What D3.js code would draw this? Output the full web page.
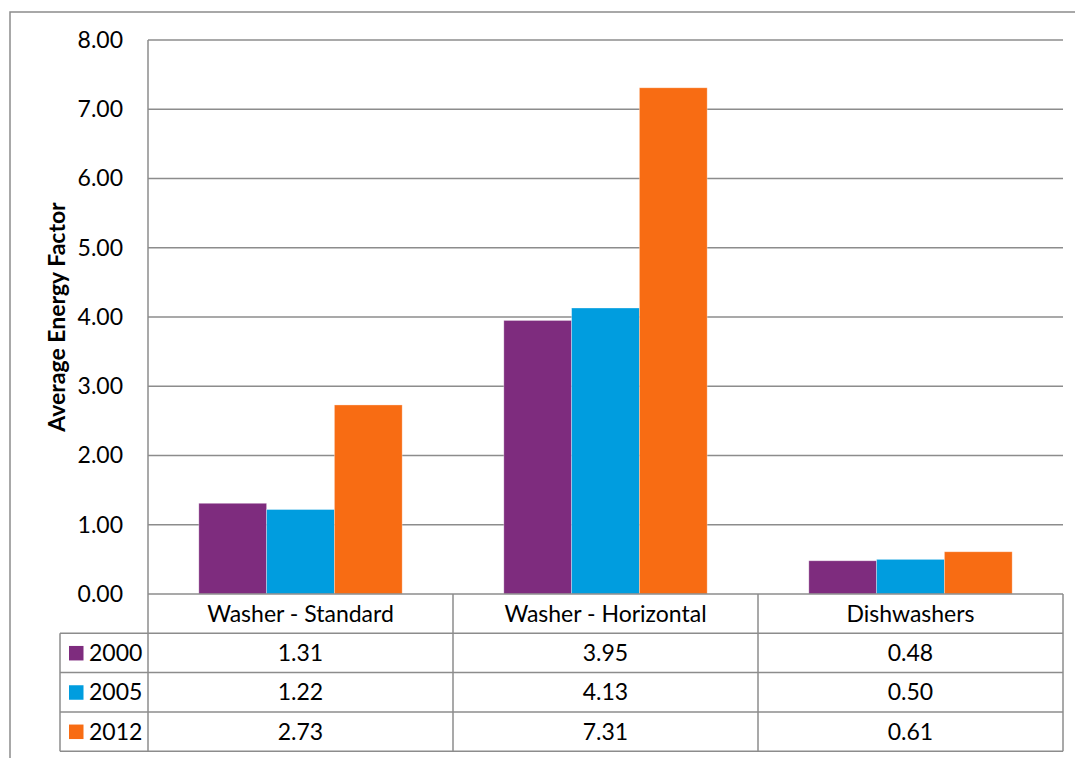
<!DOCTYPE html>
<html>
<head>
<meta charset="utf-8">
<script src="https://cdn.jsdelivr.net/npm/d3@7"></script>
<style>
  html, body { margin: 0; padding: 0; background: #fff; }
  svg { display: block; font-family: Lato, "Open Sans", "Liberation Sans", sans-serif; }
</style>
</head>
<body>
<svg id="chart" width="1075" height="758"></svg>
<script>
// Appliance categories and average energy factor per year
const categories = ["Washer - Standard", "Washer - Horizontal", "Dishwashers"];
const years = ["2000", "2005", "2012"];
const values2000 = [1.31, 3.95, 0.48];
const values2005 = [1.22, 4.13, 0.50];
const values2012 = [2.73, 7.31, 0.61];
const yTicks = [0, 1, 2, 3, 4, 5, 6, 7, 8];
const colors = ["#7e2c7e", "#009ddf", "#f86c13"];

const series = [values2000, values2005, values2012];

const svg = d3.select("#chart");
const gridColor = "#8c8c8c";
const fontSize = 23;

// Plot area
const plotLeft = 148, plotRight = 1063, plotTop = 40, plotBottom = 594;
const rowH = 39.3;

const x0 = d3.scaleBand().domain(categories).range([plotLeft, plotRight]).paddingInner(0).paddingOuter(0);
const x1 = d3.scaleBand().domain(years).range([0, x0.bandwidth()]).paddingInner(0).paddingOuter(0.75);
const y = d3.scaleLinear().domain([0, 8]).range([plotBottom, plotTop]);

// Outer chart frame (runs off the right and bottom edges)
svg.append("rect")
  .attr("x", 10).attr("y", 12)
  .attr("width", 1080).attr("height", 760)
  .attr("fill", "none").attr("stroke", gridColor).attr("stroke-width", 1.5);

// Y ticks
const yAxis = d3.axisLeft(y).tickValues(yTicks).tickFormat(d3.format(".2f")).tickSize(0).tickPadding(25);
const yg = svg.append("g").attr("transform", `translate(${plotLeft},0)`).call(yAxis);
yg.select(".domain").remove();
yg.selectAll("text").attr("font-size", fontSize).attr("fill", "#000").attr("font-family", "Lato, 'Open Sans', sans-serif");

// Horizontal gridlines
svg.append("g").selectAll("line")
  .data(yTicks.filter(d => d > 0))
  .join("line")
  .attr("x1", plotLeft).attr("x2", plotRight)
  .attr("y1", d => y(d)).attr("y2", d => y(d))
  .attr("stroke", gridColor).attr("stroke-width", 1.5);

// Left axis line
svg.append("line")
  .attr("x1", plotLeft).attr("x2", plotLeft).attr("y1", plotTop).attr("y2", plotBottom)
  .attr("stroke", gridColor).attr("stroke-width", 1.5);

// Bars
const groups = svg.append("g").selectAll("g")
  .data(categories)
  .join("g")
  .attr("transform", d => `translate(${x0(d)},0)`);

groups.selectAll("rect")
  .data((c, ci) => years.map((yr, si) => ({ yr, si, v: series[si][ci] })))
  .join("rect")
  .attr("x", d => x1(d.yr))
  .attr("width", x1.bandwidth())
  .attr("y", d => y(d.v))
  .attr("height", d => y(0) - y(d.v))
  .attr("fill", d => colors[d.si])
  .attr("stroke", "#fff").attr("stroke-opacity", 0.4).attr("stroke-width", 0.8);

// Y axis title
svg.append("text")
  .attr("transform", `translate(65,${(plotTop + plotBottom) / 2}) rotate(-90)`)
  .attr("text-anchor", "middle")
  .attr("font-size", fontSize).attr("font-weight", "bold")
  .text("Average Energy Factor");

// Data table below the plot
const table = svg.append("g");
const tableLeft = 60;
const tableBottom = plotBottom + rowH * 4;

// Horizontal rules
table.selectAll("line.h")
  .data(d3.range(5))
  .join("line")
  .attr("class", "h")
  .attr("x1", d => d === 0 ? plotLeft : tableLeft)
  .attr("x2", plotRight)
  .attr("y1", d => plotBottom + d * rowH)
  .attr("y2", d => plotBottom + d * rowH)
  .attr("stroke", gridColor).attr("stroke-width", 1.5);

// Vertical rules
const vx = [plotLeft, ...categories.map(c => x0(c) + x0.bandwidth())];
table.selectAll("line.v")
  .data(vx)
  .join("line")
  .attr("class", "v")
  .attr("x1", d => d).attr("x2", d => d)
  .attr("y1", plotBottom).attr("y2", tableBottom)
  .attr("stroke", gridColor).attr("stroke-width", 1.5);
table.append("line")
  .attr("x1", tableLeft).attr("x2", tableLeft)
  .attr("y1", plotBottom + rowH).attr("y2", tableBottom)
  .attr("stroke", gridColor).attr("stroke-width", 1.5);

// Category header row
table.selectAll("text.cat")
  .data(categories)
  .join("text")
  .attr("class", "cat")
  .attr("x", d => x0(d) + x0.bandwidth() / 2)
  .attr("y", plotBottom + rowH / 2)
  .attr("dy", "0.35em")
  .attr("text-anchor", "middle")
  .attr("font-size", fontSize)
  .text(d => d);

// Series rows with legend keys
years.forEach((yr, si) => {
  const rowY = plotBottom + rowH * (si + 1);
  table.append("rect")
    .attr("x", 69).attr("y", rowY + rowH / 2 - 7)
    .attr("width", 14.5).attr("height", 14.5)
    .attr("fill", colors[si]);
  table.append("text")
    .attr("x", 89).attr("y", rowY + rowH / 2)
    .attr("dy", "0.35em")
    .attr("font-size", fontSize)
    .text(yr);
  table.selectAll(null)
    .data(categories)
    .join("text")
    .attr("x", d => x0(d) + x0.bandwidth() / 2)
    .attr("y", rowY + rowH / 2)
    .attr("dy", "0.35em")
    .attr("text-anchor", "middle")
    .attr("font-size", fontSize)
    .text((d, ci) => d3.format(".2f")(series[si][ci]));
});
</script>
</body>
</html>
